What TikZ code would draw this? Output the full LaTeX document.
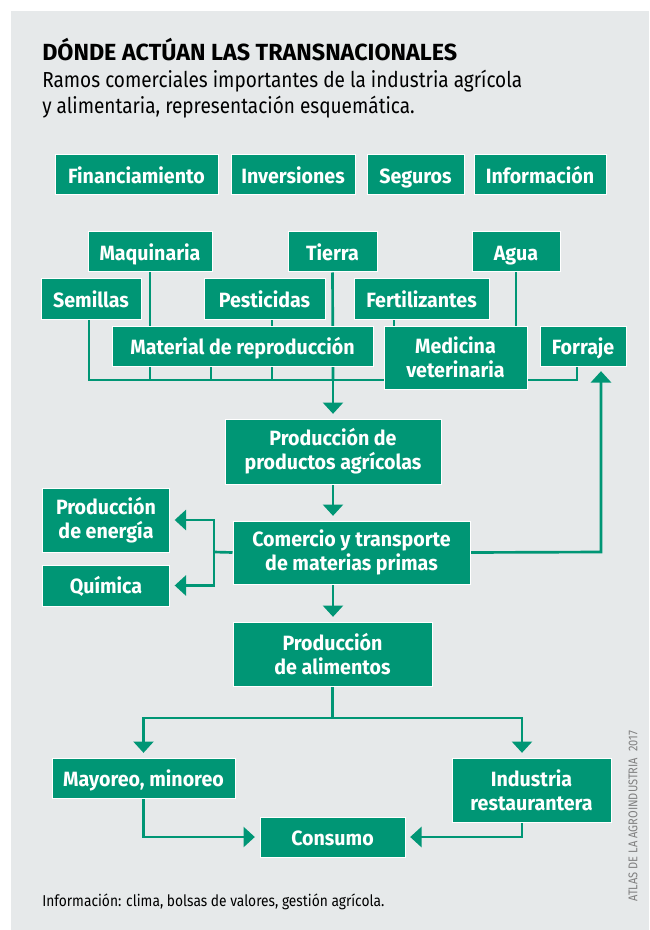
\documentclass[tikz,border=0pt]{standalone}
\usepackage{fontspec}
\setmainfont{Fira Sans}
\newfontfamily\labelfamily[FakeStretch=0.95]{Fira Sans}
\newfontfamily\narrowfamily[FakeStretch=0.875]{Fira Sans}
\usetikzlibrary{arrows.meta}

\definecolor{agrogreen}{RGB}{0,150,117}
\definecolor{panelgray}{RGB}{230,233,234}
\definecolor{creditgray}{RGB}{128,128,128}

\pgfdeclarelayer{panel}
\pgfdeclarelayer{wires}
\pgfsetlayers{panel,wires,main}

\newcommand{\boxfont}{\labelfamily\bfseries\fontsize{15.5}{18}\selectfont}

\tikzset{every picture/.style={line width=0.75pt}}
\tikzset{
  box/.style 2 args={draw=white, line width=0.75pt, fill=agrogreen, text=white,
    font=\boxfont, align=center, inner sep=0pt,
    minimum width=#1*0.75pt, minimum height=#2*0.75pt},
  one/.style={text height=12.5pt, text depth=0pt},
  wire/.style={draw=agrogreen, line width=2pt},
  flow/.style={wire, -{Triangle[width=15pt,length=8.5pt]}, shorten >=3.5pt},
  plain/.style={anchor=base west, inner sep=0pt}
}

\begin{document}
\begin{tikzpicture}[x=0.75pt,y=0.75pt,yscale=-1,xscale=1]
\useasboundingbox (0,0) rectangle (649,930);
\begin{pgfonlayer}{panel}
\fill[panelgray] (11,11) rectangle (649,930);
\end{pgfonlayer}

% Heading
\node[plain, font=\bfseries\fontsize{17.5}{20}\selectfont] (title) at (42,60.7) {DÓNDE ACTÚAN LAS TRANSNACIONALES};
\node[plain, font=\narrowfamily\fontsize{16.3}{19}\selectfont] (sub1) at (42,87.3) {Ramos comerciales importantes de la industria agrícola};
\node[plain, font=\narrowfamily\fontsize{16.3}{19}\selectfont] (sub2) at (42,113.3) {y alimentaria, representación esquemática.};

% Services
\node[box={163}{40}, one] (fin) at (136.5,175) {Financiamiento};
\node[box={124}{40}, one] (inv) at (293,175) {Inversiones};
\node[box={97}{40}, one] (seg) at (415.5,175) {Seguros};
\node[box={132}{40}, one] (info) at (540,175) {Información};

% Inputs
\node[box={124}{40}, one] (maq) at (150,252) {Maquinaria};
\node[box={89}{40}, one] (tierra) at (332.5,252) {Tierra};
\node[box={88}{40}, one] (agua) at (516,252) {Agua};
\node[box={100}{40}, one] (sem) at (91,299) {Semillas};
\node[box={121}{40}, one] (pest) at (264.5,299) {Pesticidas};
\node[box={135}{40}, one] (fert) at (421.5,299) {Fertilizantes};
\node[box={261}{40}, one] (mat) at (242.5,346) {Material de reproducción};
\node[box={143}{63}] (med) at (455.5,357.5) {Medicina\\veterinaria};
\node[box={86}{40}, one] (forr) at (583,346) {Forraje};

% Chain
\node[box={216}{65}] (prod) at (333,451.5) {Producción de\\productos agrícolas};
\node[box={237}{63}] (com) at (351.5,552.5) {Comercio y transporte\\de materias primas};
\node[box={127}{64}] (ener) at (106,520) {Producción\\de energía};
\node[box={127}{41}, one] (quim) at (106,585.5) {Química};
\node[box={199}{64}] (alim) at (332.5,654) {Producción\\de alimentos};
\node[box={183}{40}, one] (may) at (143.5,778) {Mayoreo, minoreo};
\node[box={159}{64}] (ind) at (531.5,790) {Industria\\restaurantera};
\node[box={145}{40}, one] (cons) at (332.5,837) {Consumo};

% Footer
\node[plain, font=\narrowfamily\fontsize{11.8}{14}\selectfont] (note) at (42,906) {Información: clima, bolsas de valores, gestión agrícola.};
\node[rotate=90, inner sep=0pt, text=creditgray, font=\narrowfamily\fontsize{9.5}{11}\selectfont] (credit) at (633,816) {ATLAS DE LA AGROINDUSTRIA\enspace 2017};

% Bus points
\coordinate (busL) at (89,380);
\coordinate (tickM) at (211,380);
\coordinate (tickP) at (272,380);
\coordinate (busM) at (333,380);
\coordinate (tickF) at (394,380);
\coordinate (busR) at (577,380);
\coordinate (branch) at (214,552);
\coordinate (loopR) at (601,552);
\coordinate (split) at (332.5,718);
\coordinate (splitR) at (522,718);

\begin{pgfonlayer}{wires}
%Straight Lines
\draw[wire] (sem.south -| busL) -- (busL) -- (busR) -- (forr.south -| busR);
\draw[wire] (maq.south) -- (maq.south |- busL);
\draw[wire] (mat.south -| tickM) -- (tickM);
\draw[wire] (pest.south -| tickP) -- (tickP);
\draw[wire] (tierra.south) -- (busM);
\draw[wire] (fert.south -| tickF) -- (med.north -| tickF);
\draw[wire] (agua.south) -- (med.north -| agua.south);
\draw[wire] (com.west) -- (branch);
\draw[wire] (alim.south) -- (split);
%Arrows
\draw[flow] (busM) -- (prod.north -| busM);
\draw[flow] (prod.south -| busM) -- (com.north -| busM);
\draw[flow] (com.south -| busM) -- (alim.north -| busM);
\draw[flow] (branch) |- (ener.east);
\draw[flow] (branch) |- (quim.east);
\draw[flow] (com.east) -- (loopR) -- (forr.south -| loopR);
\draw[flow] (split) -| (may.north);
\draw[flow] (split) -- (splitR) -- (ind.north -| splitR);
\draw[flow] (may.south) |- (cons.west);
\draw[flow] (ind.south -| splitR) |- (cons.east);
\end{pgfonlayer}

\end{tikzpicture}
\end{document}
